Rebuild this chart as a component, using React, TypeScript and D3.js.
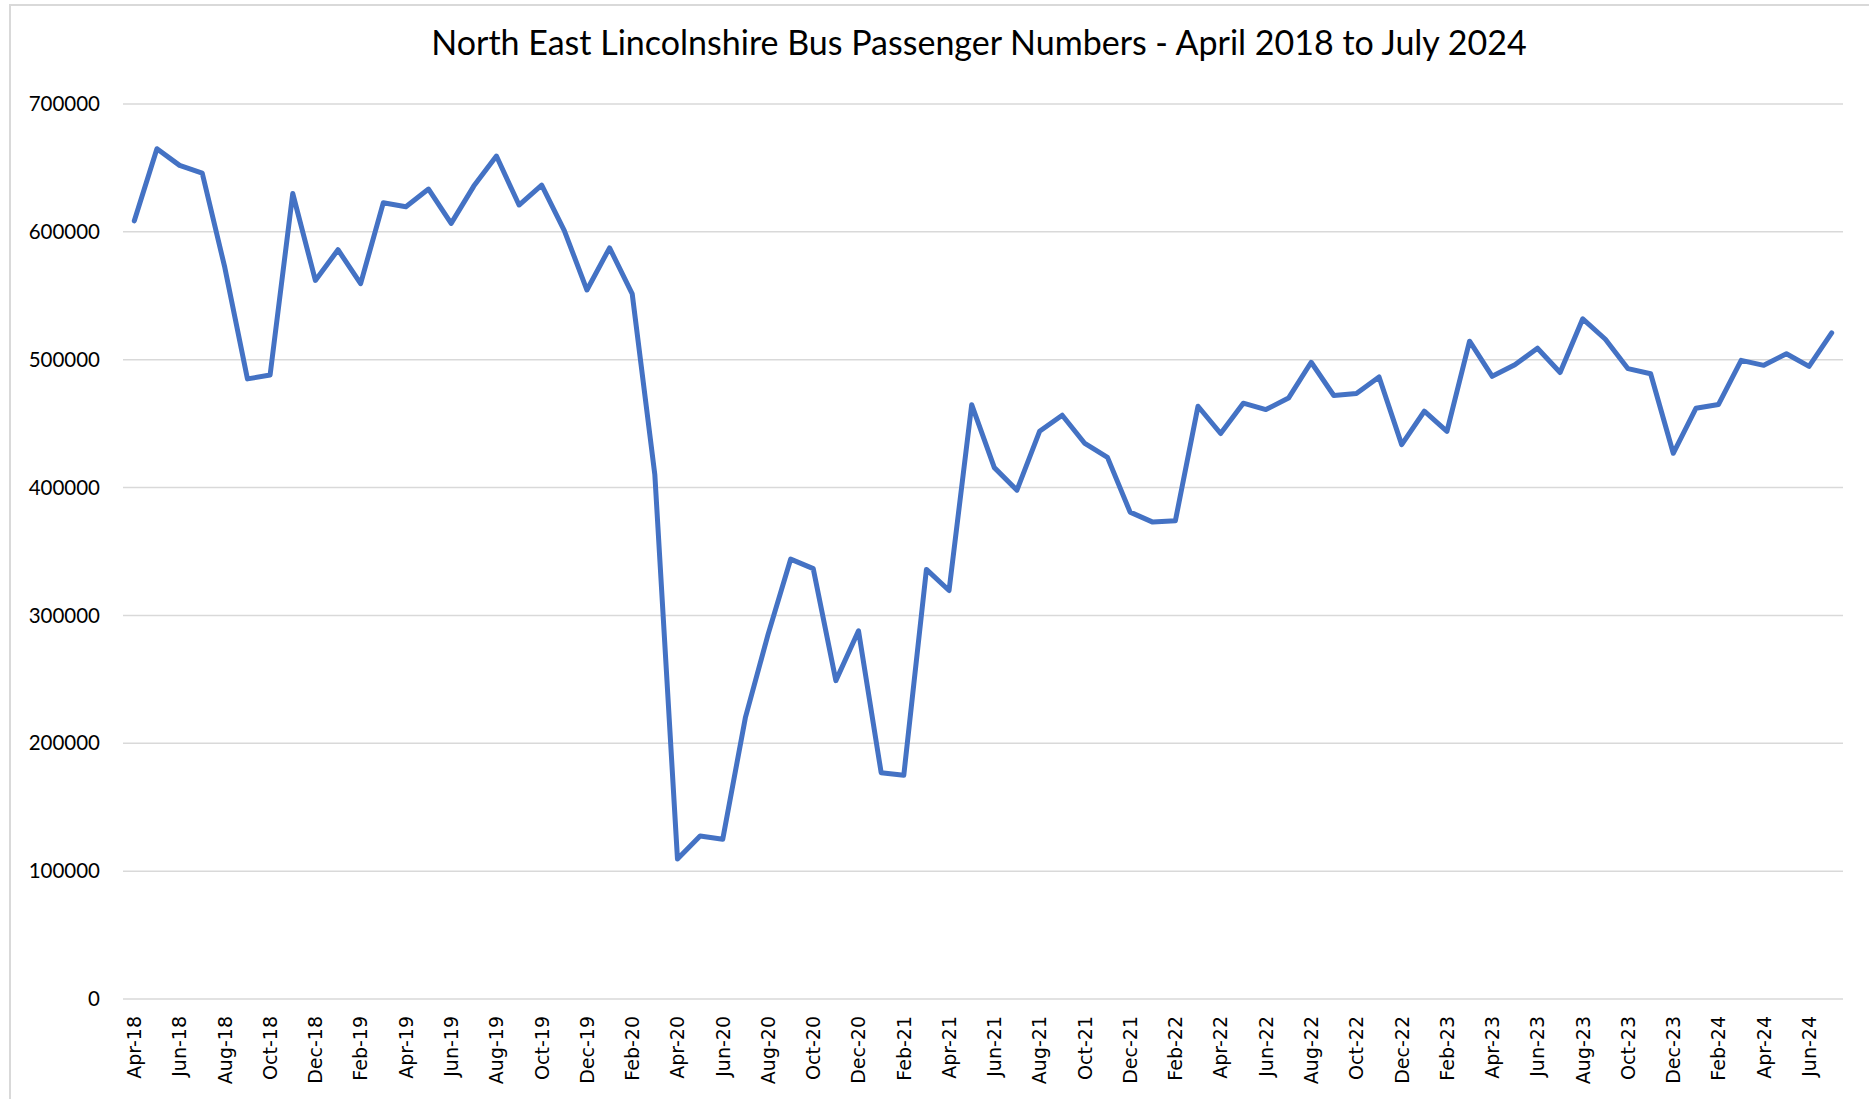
import React from "react";
import * as d3 from "d3";

const TITLE = "North East Lincolnshire Bus Passenger Numbers - April 2018 to July 2024";

const MONTHS: string[] = [
  "Apr-18", "May-18", "Jun-18", "Jul-18", "Aug-18", "Sep-18", "Oct-18", "Nov-18", "Dec-18",
  "Jan-19", "Feb-19", "Mar-19", "Apr-19", "May-19", "Jun-19", "Jul-19", "Aug-19", "Sep-19", "Oct-19", "Nov-19", "Dec-19",
  "Jan-20", "Feb-20", "Mar-20", "Apr-20", "May-20", "Jun-20", "Jul-20", "Aug-20", "Sep-20", "Oct-20", "Nov-20", "Dec-20",
  "Jan-21", "Feb-21", "Mar-21", "Apr-21", "May-21", "Jun-21", "Jul-21", "Aug-21", "Sep-21", "Oct-21", "Nov-21", "Dec-21",
  "Jan-22", "Feb-22", "Mar-22", "Apr-22", "May-22", "Jun-22", "Jul-22", "Aug-22", "Sep-22", "Oct-22", "Nov-22", "Dec-22",
  "Jan-23", "Feb-23", "Mar-23", "Apr-23", "May-23", "Jun-23", "Jul-23", "Aug-23", "Sep-23", "Oct-23", "Nov-23", "Dec-23",
  "Jan-24", "Feb-24", "Mar-24", "Apr-24", "May-24", "Jun-24", "Jul-24",
];

const PASSENGERS: number[] = [
  608600, 665000, 652000, 646000, 572000, 485000, 488000, 630000, 562000,
  586000, 559500, 622700, 619600, 633500, 606600, 635800, 659300, 621000, 636600, 601000, 554500,
  587500, 551500, 410000, 109500, 127500, 125000, 220000, 285000, 344000, 336600, 249000, 288000,
  177000, 175000, 336000, 319500, 464800, 415600, 398000, 444000, 456600, 434500, 423600, 380800,
  373000, 374000, 463600, 442300, 466000, 461000, 470000, 498000, 472000, 473500, 486500, 433600,
  459700, 444000, 514500, 487000, 496000, 509000, 490000, 532000, 516000, 493000, 489000, 426800,
  462000, 465000, 499500, 495600, 504700, 494800, 521000,
];

const Y_TICKS: number[] = [0, 100000, 200000, 300000, 400000, 500000, 600000, 700000];

const W = 1869;
const H = 1099;

export default function App() {
  const x = d3.scaleBand<string>().domain(MONTHS).range([123, 1843]);
  const y = d3.scaleLinear().domain([0, 700000]).range([999, 104]);
  const cx = (m: string) => (x(m) ?? 0) + x.bandwidth() / 2;

  const line = d3
    .line<number>()
    .x((_, i) => cx(MONTHS[i]))
    .y((d) => y(d));

  const tickMonths = MONTHS.filter((_, i) => i % 2 === 0);

  return (
    <svg
      width={W}
      height={H}
      style={{ position: "absolute", left: 0, top: 0, background: "#fff" }}
    >
      <rect x={0} y={0} width={W} height={H} fill="#fff" />
      <rect x={10} y={5} width={W + 10} height={H + 10} fill="#fff" stroke="#d9d9d9" strokeWidth={2} />
      <text
        x={979}
        y={55}
        textAnchor="middle"
        fontFamily="Lato, 'Open Sans', sans-serif"
        fontSize={34}
        fill="#000"
      >
        {TITLE}
      </text>
      {Y_TICKS.map((t) => (
        <g key={t}>
          <line x1={123} x2={1843} y1={y(t)} y2={y(t)} stroke="#d9d9d9" strokeWidth={1.5} />
          <text
            x={100}
            y={y(t)}
            dy="0.35em"
            textAnchor="end"
            fontFamily="Lato, 'Open Sans', sans-serif"
            fontSize={20.5}
            fill="#000"
          >
            {t}
          </text>
        </g>
      ))}
      {tickMonths.map((m) => (
        <text
          key={m}
          transform={`translate(${cx(m)},1016) rotate(-90)`}
          dy="0.36em"
          textAnchor="end"
          fontFamily="'DejaVu Sans', Verdana, sans-serif"
          fontSize={19}
          fill="#000"
        >
          {m}
        </text>
      ))}
      <path
        d={line(PASSENGERS) ?? ""}
        fill="none"
        stroke="#4472C4"
        strokeWidth={5}
        strokeLinejoin="round"
        strokeLinecap="round"
      />
    </svg>
  );
}
